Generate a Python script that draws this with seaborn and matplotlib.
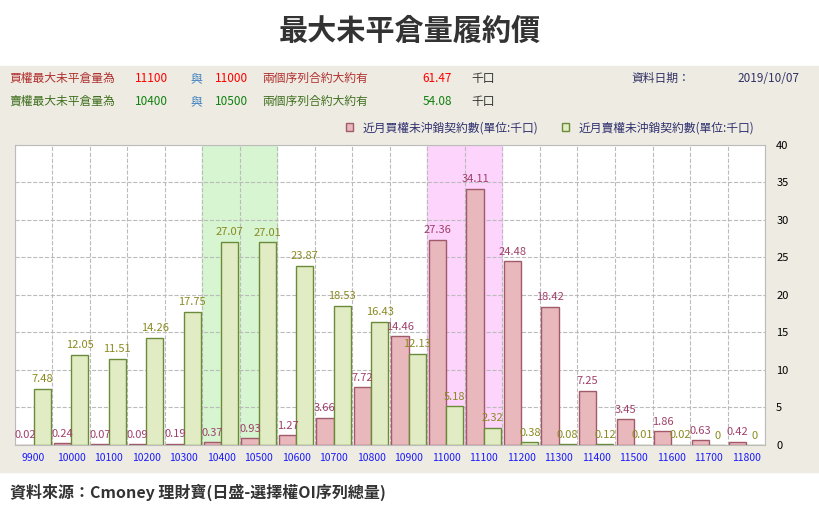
import numpy as np
import pandas as pd
import seaborn as sns
import matplotlib.pyplot as plt
from matplotlib.patches import Rectangle

plt.rcParams['font.family'] = 'sans-serif'
plt.rcParams['font.sans-serif'] = ['Noto Sans CJK TC', 'Noto Sans CJK JP', 'Noto Sans CJK SC', 'DejaVu Sans']

# === Data ===
strikes = ['9900', '10000', '10100', '10200', '10300', '10400', '10500', '10600', '10700', '10800',
           '10900', '11000', '11100', '11200', '11300', '11400', '11500', '11600', '11700', '11800']
call_oi = [0.02, 0.24, 0.07, 0.09, 0.19, 0.37, 0.93, 1.27, 3.66, 7.72,
           14.46, 27.36, 34.11, 24.48, 18.42, 7.25, 3.45, 1.86, 0.63, 0.42]
put_oi  = [7.48, 12.05, 11.51, 14.26, 17.75, 27.07, 27.01, 23.87, 18.53, 16.43,
           12.13, 5.18, 2.32, 0.38, 0.08, 0.12, 0.01, 0.02, 0, 0]
CALL_NAME = '近月買權未沖銷契約數(單位:千口)'
PUT_NAME  = '近月賣權未沖銷契約數(單位:千口)'

df = pd.DataFrame({'strike': strikes * 2,
                   'oi': call_oi + put_oi,
                   'type': [CALL_NAME] * len(strikes) + [PUT_NAME] * len(strikes)})

BG = '#eeece2'
fig = plt.figure(figsize=(8.2, 5.08), dpi=100)
fig.patches.append(Rectangle((0, 0.07), 1, 0.80, transform=fig.transFigure, color=BG, zorder=-10))
ax = fig.add_axes([0.018, 0.124, 0.915, 0.591])

# highlight columns
ax.axvspan(4.5, 6.5, color='#d6f5d0', zorder=0)
ax.axvspan(10.5, 12.5, color='#fcd4fc', zorder=0)

sns.barplot(data=df, x='strike', y='oi', hue='type', ax=ax, width=0.92,
            palette={CALL_NAME: '#e8b8bc', PUT_NAME: '#e2ecc4'}, saturation=1, zorder=3)
for bars, ec in zip(ax.containers, ['#a05a6a', '#6b8a3a']):
    for b in bars:
        b.set_edgecolor(ec)
        b.set_linewidth(1)

# value labels
for bars, vals, col in zip(ax.containers, [call_oi, put_oi], ['#a0406a', '#8a8a20']):
    for b, v in zip(bars, vals):
        ax.text(b.get_x() + b.get_width() / 2, v + 0.6, f'{v:g}' if v == 0 else f'{v:.2f}',
                ha='center', va='bottom', fontsize=8, color=col, zorder=5)

ax.set_ylim(0, 40)
ax.set_xlim(-0.5, len(strikes) - 0.5)
ax.yaxis.tick_right()
ax.set_yticks(range(0, 41, 5))
ax.tick_params(axis='y', length=0, labelsize=8, pad=8)
ax.tick_params(axis='x', length=0, labelsize=7.5, labelcolor='#1a1aff', pad=6)
ax.set_xlabel('')
ax.set_ylabel('')
ax.grid(True, axis='y', color='#bbbbbb', linestyle='--', linewidth=0.8, zorder=1)
ax.set_xticks(np.arange(-0.5, len(strikes)), minor=True)
ax.grid(True, axis='x', which='minor', color='#bbbbbb', linestyle='--', linewidth=0.8, zorder=1)
ax.grid(False, axis='x', which='major')
ax.tick_params(axis='x', which='minor', length=0)
ax.set_axisbelow(True)
for s in ax.spines.values():
    s.set_color('#bbbbbb')

leg = ax.legend(loc='lower right', bbox_to_anchor=(1.0, 1.0), ncol=2, frameon=False,
                fontsize=8.5, handlelength=0.6, handleheight=0.6, columnspacing=2)
for t in leg.get_texts():
    t.set_color('#303070')
for h, ec in zip(leg.legend_handles, ['#a05a6a', '#6b8a3a']):
    h.set_edgecolor(ec)
    h.set_linewidth(1)

fig.text(0.5, 0.94, '最大未平倉量履約價', ha='center', va='center', fontsize=21, fontweight='bold', color='#333333')

y1, y2 = 0.845, 0.80
row = [(0.012, '買權最大未平倉量為', '#b03030'), (0.165, '11100', '#ff0000'), (0.232, '與', '#4080c0'),
       (0.262, '11000', '#ff0000'), (0.32, '兩個序列合約大約有', '#b03030'), (0.515, '61.47', '#ff0000'),
       (0.575, '千口', '#333333')]
for x, t, c in row:
    fig.text(x, y1, t, fontsize=8.5, color=c, va='center')
row = [(0.012, '賣權最大未平倉量為', '#407020'), (0.165, '10400', '#108010'), (0.232, '與', '#4080c0'),
       (0.262, '10500', '#108010'), (0.32, '兩個序列合約大約有', '#407020'), (0.515, '54.08', '#108010'),
       (0.575, '千口', '#333333')]
for x, t, c in row:
    fig.text(x, y2, t, fontsize=8.5, color=c, va='center')
fig.text(0.77, y1, '資料日期：', fontsize=8.5, color='#333366', va='center')
fig.text(0.975, y1, '2019/10/07', fontsize=8.5, color='#333366', va='center', ha='right')

fig.text(0.012, 0.03, '資料來源：Cmoney 理財寶(日盛-選擇權OI序列總量)', fontsize=11.5,
         fontweight='bold', color='#333333', va='center')

fig.savefig('out.png', dpi=100)
